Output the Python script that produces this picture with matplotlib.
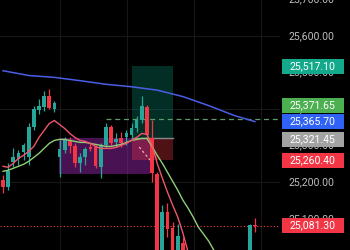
import numpy as np
import matplotlib
matplotlib.use("Agg")
import matplotlib.pyplot as plt
import matplotlib.transforms as mtransforms
from matplotlib.patches import Rectangle

nan = np.nan
# ---------------- data ----------------
opens = [25205.4, 25186.4, 25254.4, 25262.6, 25281.6, 25268.0, 25349.6, 25398.6, 25406.8, 25436.7,
         25401.3, 25268.0, 25287.1, 25311.5, 25297.9, 25251.7, 25268.0, 25295.2, 25295.2, 25240.8,
         25300.7, 25349.6, 25308.8, 25319.7, 25322.4, 25327.9, 25346.9, 25368.7, 25406.8, 25319.7,
         25221.7, 24982.3, 25118.3, 25074.8, 24987.7, 25034.0] + [nan] * 12 + [24985.0, 25084.0]
closes = [25186.4, 25229.9, 25268.0, 25278.9, 25300.7, 25349.6, 25401.3, 25409.5, 25436.7, 25404.1,
          25417.7, 25289.8, 25314.3, 25297.9, 25251.7, 25268.0, 25289.8, 25289.8, 25243.5, 25297.9,
          25349.6, 25306.1, 25317.0, 25306.1, 25333.3, 25346.9, 25368.7, 25409.5, 25327.9, 25224.5,
          24982.3, 25118.3, 25072.1, 24987.7, 25053.0, 24974.2] + [nan] * 12 + [25083.0, 25081.3]
highs = [25219.0, 25251.7, 25292.5, 25287.1, 25306.1, 25363.2, 25409.5, 25428.5, 25450.3, 25455.8,
         25423.1, 25314.3, 25322.4, 25322.4, 25306.1, 25278.9, 25295.2, 25306.1, 25300.7, 25306.1,
         25363.2, 25355.1, 25333.3, 25336.0, 25341.5, 25360.5, 25382.3, 25436.7, 25412.2, 25368.7,
         25227.2, 25137.4, 25142.8, 25091.1, 25085.7, 25050.3] + [nan] * 12 + [25085.7, 25102.0]
lows = [25170.0, 25178.2, 25240.8, 25246.2, 25259.8, 25246.2, 25341.5, 25387.7, 25395.9, 25401.3,
        25393.2, 25213.6, 25278.9, 25278.9, 25240.8, 25227.2, 25246.2, 25284.3, 25238.1, 25210.9,
        25295.2, 25300.7, 25295.2, 25295.2, 25300.7, 25314.3, 25336.0, 25363.2, 25319.7, 25200.0,
        24970.0, 24970.0, 25050.3, 24970.0, 24975.0, 24960.0] + [nan] * 12 + [24975.0, 25063.9]

red_ma = [25243.5, 25240.8, 25251.7, 25265.3, 25273.4, 25284.3, 25297.9, 25322.4, 25341.5, 25360.5,
          25368.7, 25357.8, 25346.9, 25333.3, 25322.4, 25314.3, 25311.5, 25306.1, 25297.9, 25292.5,
          25292.5, 25292.5, 25295.2, 25300.7, 25306.1, 25314.3, 25322.4, 25333.3, 25330.6, 25300.7,
          25251.7, 25210.9, 25172.8, 25137.4, 25104.7, 25061.2, 25009.5] + [nan] * 13
green_ma = [25229.9, 25232.6, 25238.1, 25243.5, 25249.0, 25257.1, 25268.0, 25278.9, 25292.5, 25306.1,
            25314.3, 25317.0, 25317.0, 25314.3, 25311.5, 25308.8, 25308.8, 25306.1, 25303.4, 25300.7,
            25297.9, 25297.9, 25300.7, 25303.4, 25308.8, 25314.3, 25317.0, 25319.7, 25319.7, 25297.9,
            25273.4, 25251.7, 25227.2, 25202.7, 25178.2, 25151.0, 25129.2, 25104.7, 25077.5, 25058.5,
            25039.4, 25014.9, 24993.2] + [nan] * 7
blue_idx = [0, 5, 10, 15, 20, 25, 30, 35, 40, 45, 49]
blue_ma = [25504.7, 25491.7, 25486.5, 25477.5, 25467.7, 25460.9, 25451.7, 25434.0, 25409.5, 25382.3, 25365.7]

# position tool / drawings
entry_price = 25321.45
target_price = 25517.10
stop_price = 25260.40
position_span = [25.1, 33.1]
range_box_span = [10.9, 28.6]
range_box_prices = [25221.7, 25319.7]
ray_price = 25371.65
ray_start = 20.0
last_price = 25081.30
trade_line_idx = [26.5, 28.6]
trade_line_prices = [25296.2, 25260.7]

axis_ticks = [25700, 25600, 25500, 25400, 25300, 25200, 25100]
grid_prices = [25200, 25400, 25600]
grid_times = [11.1, 24.1, 37.2, 50.2]

label_values = [25517.10, 25371.65, 25365.70, 25321.45, 25260.40, 25081.30]
label_colors = ['#13a98b', '#4caf50', '#2f62f5', '#a3a3a3', '#f23645', '#f23645']
label_shift_px = [0, -14, 0, 1.5, 0, 0]

UP = '#26a69a'
DOWN = '#f23645'

# ---------------- figure ----------------
fig = plt.figure(figsize=(3.5, 2.5), dpi=100, facecolor='black')
ax = fig.add_axes([0, 0, 0.8, 1])
ax.set_facecolor('black')
ax.set_xlim(-0.584, 53.89)
ax.set_ylim(25014.8, 25698.0)
for s in ax.spines.values():
    s.set_visible(False)
ax.set_xticks([])
ax.set_yticks([])

for gp in grid_prices:
    ax.axhline(gp, color='#171717', lw=0.8, zorder=0)
for gt in grid_times:
    ax.axvline(gt, color='#171717', lw=0.8, zorder=0)

# range box
ax.add_patch(Rectangle((range_box_span[0], range_box_prices[0]),
                       range_box_span[1] - range_box_span[0],
                       range_box_prices[1] - range_box_prices[0],
                       facecolor=(156/255, 39/255, 176/255, 0.47), edgecolor='none', zorder=1))
# position tool
ax.add_patch(Rectangle((position_span[0], entry_price), position_span[1] - position_span[0],
                       target_price - entry_price, facecolor=(8/255, 153/255, 129/255, 0.3),
                       edgecolor='none', zorder=1))
ax.add_patch(Rectangle((position_span[0], stop_price), position_span[1] - position_span[0],
                       entry_price - stop_price, facecolor=(242/255, 54/255, 69/255, 0.32),
                       edgecolor='none', zorder=1))
ax.plot(position_span, [entry_price, entry_price], color='#8a8a8a', lw=1.0, zorder=2)
ax.plot(trade_line_idx, trade_line_prices, color='#e6b0bd', lw=0.9, ls=(0, (2, 2)), zorder=2)

# ray / last price
ax.plot([ray_start, 60], [ray_price, ray_price], color='#5f9a6a', lw=0.9, ls=(0, (4, 3)), zorder=2)
ax.axhline(last_price, color='#f23645', lw=0.8, ls=(0, (1, 2)), zorder=2)

# candles
x = np.arange(len(opens))
o = np.array(opens); c = np.array(closes); h = np.array(highs); l = np.array(lows)
valid = ~np.isnan(o)
up = valid & (c >= o)
dn = valid & (c < o)
for mask, col in ((up, UP), (dn, DOWN)):
    ax.vlines(x[mask], l[mask], h[mask], color=col, lw=0.9, zorder=3)
    body_h = np.maximum(np.abs(c[mask] - o[mask]), 2.0)
    ax.bar(x[mask], body_h, bottom=np.minimum(o[mask], c[mask]), width=0.72,
           color=col, edgecolor='none', zorder=3)

# moving averages
ax.plot(x, green_ma, color='#8fce76', lw=1.0, zorder=4)
ax.plot(x, red_ma, color='#f0566a', lw=1.0, zorder=4)
ax.plot(blue_idx, blue_ma, color='#4a5ee6', lw=1.1, zorder=4)

# price axis
trans = mtransforms.blended_transform_factory(ax.transAxes, ax.transData)
font = dict(family=['Roboto', 'DejaVu Sans'], fontsize=7.6)
for t in axis_ticks:
    ax.text(1.114, t, f"{t:,.2f}", transform=trans, color='#bdbdbd', ha='center', va='center',
            clip_on=False, **font)

pts_per_px = (25698.0 - 25014.8) / 250.0
box_h = 15 * pts_per_px
for v, col, sh in zip(label_values, label_colors, label_shift_px):
    yc = v - sh * pts_per_px
    ax.add_patch(Rectangle((1.007, yc - box_h / 2), 0.222, box_h, transform=trans,
                           facecolor=col, edgecolor='none', clip_on=False, zorder=6))
    ax.text(1.116, yc, f"{v:,.2f}", transform=trans, color='white', ha='center', va='center',
            clip_on=False, zorder=7, **font)

fig.savefig('out.png', dpi=100, facecolor='black')
